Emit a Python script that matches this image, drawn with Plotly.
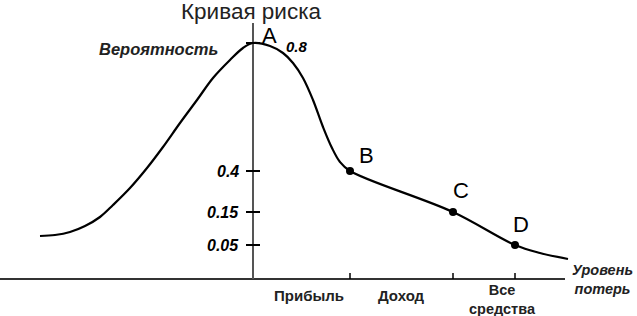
import plotly.graph_objects as go

# Schematic risk curve, coordinates in chart units (origin at the axes crossing)
curve_x = [-213, -198, -183, -168, -153, -140, -123, -106, -90, -73, -56, -40, -23, -10, 0,
           17, 30, 40, 50, 60, 70, 79, 87, 97, 200, 262, 287, 315]
curve_y = [43, 44, 47, 53, 62, 74, 91, 111, 132, 156, 179, 201, 219, 231, 236,
           233, 226, 216, 201, 179, 152, 131, 117, 108, 67, 34, 26, 20]

point_names = ["A", "B", "C", "D"]
point_x = [0, 97, 200, 262]
point_y = [236, 108, 67, 34]
name_dx = [16, 16, 8, 6]
name_dy = [8, 16, 22, 21]

prob_labels = ["0.8", "0.4", "0.15", "0.05"]
prob_pos = [236, 108, 67, 34]

loss_ticks = [97, 200, 262]
loss_labels = ["Прибыль", "Доход", "Все<br>средства"]
loss_label_x = [56, 148, 249]

FONT = "Liberation Sans, Arial, sans-serif"

fig = go.Figure()
fig.add_trace(go.Scatter(x=curve_x, y=curve_y, mode="lines",
                         line=dict(color="black", width=2.2, shape="spline", smoothing=1.0),
                         hoverinfo="skip"))
fig.add_trace(go.Scatter(x=point_x[1:], y=point_y[1:], mode="markers",
                         marker=dict(color="black", size=8), hoverinfo="skip"))

shapes = []
shapes.append(dict(type="line", x0=-253, x1=312, y0=0, y1=0, line=dict(color="#333", width=2)))
shapes.append(dict(type="line", x0=0, x1=0, y0=0, y1=256, line=dict(color="#555", width=2)))
for p in prob_pos:
    shapes.append(dict(type="line", x0=-7, x1=7, y0=p, y1=p, line=dict(color="black", width=2)))
for t in loss_ticks:
    shapes.append(dict(type="line", x0=t, x1=t, y0=0, y1=6, line=dict(color="black", width=1.5)))

ann = []
ann.append(dict(x=-2, y=268, text="Кривая риска", showarrow=False,
                font=dict(family=FONT, size=22.5, color="#222"), xanchor="center", yanchor="middle"))
ann.append(dict(x=-33, y=230, text="<b><i>Вероятность</i></b>", showarrow=False,
                font=dict(family=FONT, size=16.5, color="#222"), xanchor="right", yanchor="middle"))
for name, x, y, dx, dy in zip(point_names, point_x, point_y, name_dx, name_dy):
    ann.append(dict(x=x + dx, y=y + dy, text=name, showarrow=False,
                    font=dict(family=FONT, size=22, color="black"), xanchor="center", yanchor="middle"))
for lab, p in zip(prob_labels, prob_pos):
    if lab == "0.8":
        ann.append(dict(x=31, y=p - 3, text="<b><i>" + lab + "</i></b>", showarrow=False,
                        font=dict(family=FONT, size=15, color="black"), xanchor="left", yanchor="middle"))
    else:
        ann.append(dict(x=-12, y=p, text="<b><i>" + lab + "</i></b>", showarrow=False,
                        font=dict(family=FONT, size=16, color="black"), xanchor="right", yanchor="middle"))
for lab, x in zip(loss_labels, loss_label_x):
    two = "<br>" in lab
    ann.append(dict(x=x, y=-20 if two else -16, text="<b>" + lab.replace("<br>", "</b><br><b>") + "</b>",
                    showarrow=False, font=dict(family=FONT, size=14.5 if two else 15, color="#222"),
                    xanchor="center", yanchor="middle"))
ann.append(dict(x=349, y=-0.5, text="<b><i>Уровень</i></b><br><b><i>потерь</i></b>", showarrow=False,
                font=dict(family=FONT, size=14.5, color="#222"), xanchor="center", yanchor="middle"))

fig.update_layout(
    width=637, height=316, margin=dict(l=0, r=0, t=0, b=0),
    paper_bgcolor="white", plot_bgcolor="white", showlegend=False,
    xaxis=dict(range=[-253, 384], visible=False, fixedrange=True),
    yaxis=dict(range=[-37, 279], visible=False, fixedrange=True),
    shapes=shapes, annotations=ann,
)
fig.write_html("out.html")
